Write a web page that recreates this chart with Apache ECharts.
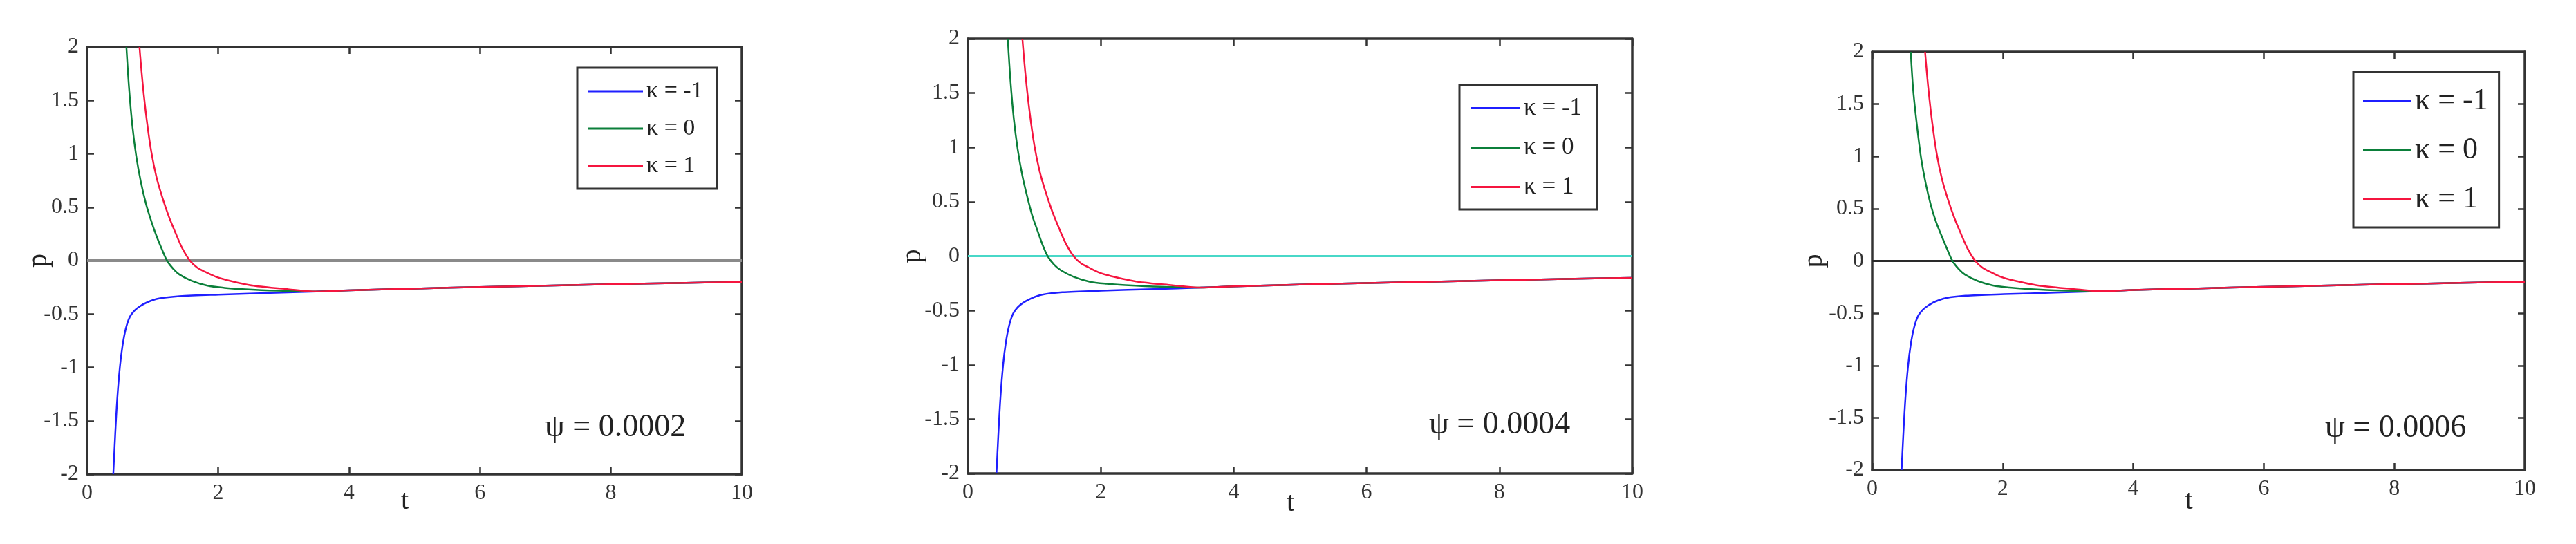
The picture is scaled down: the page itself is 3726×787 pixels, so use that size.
<!DOCTYPE html>
<html>
<head>
<meta charset="utf-8">
<script src="https://cdn.jsdelivr.net/npm/echarts@6/dist/echarts.min.js"></script>
<style>
  html, body { margin: 0; padding: 0; background: #fff; }
  #main { width: 3726px; height: 787px; }
</style>
</head>
<body>
<div id="main"></div>
<script>
// p values (same shape in the three panels)
var blueP  = [-2.0, -1.62, -1.3, -1.0, -0.8, -0.64, -0.53, -0.47, -0.43, -0.39, -0.355, -0.333, -0.318, -0.303, -0.29, -0.278, -0.262, -0.248, -0.235, -0.222, -0.21, -0.2];
var greenP = [2.0, 1.62, 1.27, 0.98, 0.74, 0.53, 0.37, 0.23, 0.11, 0.0, -0.08, -0.13, -0.19, -0.235, -0.255, -0.267, -0.282, -0.29, -0.278, -0.262, -0.248, -0.235, -0.222, -0.21, -0.2];
var redP   = [2.0, 1.65, 1.32, 1.02, 0.78, 0.59, 0.41, 0.26, 0.12, 0.0, -0.065, -0.105, -0.15, -0.18, -0.235, -0.268, -0.29, -0.278, -0.262, -0.248, -0.235, -0.222, -0.21, -0.2];

// t values for each panel
var blueT1  = [0.40, 0.43, 0.46, 0.50, 0.54, 0.59, 0.65, 0.72, 0.80, 0.92, 1.10, 1.41, 2.01, 2.8, 3.5, 4, 5, 6, 7, 8, 9, 10];
var greenT1 = [0.60, 0.64, 0.69, 0.75, 0.82, 0.90, 0.98, 1.06, 1.14, 1.22, 1.32, 1.41, 1.60, 1.84, 2.10, 2.37, 2.9, 3.5, 4, 5, 6, 7, 8, 9, 10];
var redT1   = [0.80, 0.85, 0.91, 0.98, 1.06, 1.15, 1.25, 1.35, 1.45, 1.57, 1.68, 1.80, 1.96, 2.12, 2.54, 3.07, 3.5, 4, 5, 6, 7, 8, 9, 10];

var blueT2  = [0.43, 0.46, 0.49, 0.53, 0.57, 0.62, 0.68, 0.75, 0.83, 0.95, 1.12, 1.42, 2.01, 2.8, 3.5, 4, 5, 6, 7, 8, 9, 10];
var greenT2 = [0.60, 0.64, 0.69, 0.75, 0.82, 0.90, 0.97, 1.05, 1.12, 1.20, 1.30, 1.40, 1.59, 1.83, 2.09, 2.37, 2.9, 3.5, 4, 5, 6, 7, 8, 9, 10];
var redT2   = [0.82, 0.87, 0.93, 1.00, 1.08, 1.17, 1.27, 1.37, 1.47, 1.59, 1.70, 1.82, 1.97, 2.13, 2.55, 3.08, 3.5, 4, 5, 6, 7, 8, 9, 10];

var blueT3  = [0.45, 0.48, 0.51, 0.55, 0.59, 0.64, 0.70, 0.77, 0.85, 0.96, 1.13, 1.43, 2.02, 2.8, 3.5, 4, 5, 6, 7, 8, 9, 10];
var greenT3 = [0.59, 0.63, 0.69, 0.75, 0.82, 0.90, 0.98, 1.07, 1.15, 1.23, 1.33, 1.42, 1.61, 1.85, 2.11, 2.38, 2.9, 3.5, 4, 5, 6, 7, 8, 9, 10];
var redT3   = [0.81, 0.86, 0.92, 0.99, 1.07, 1.16, 1.26, 1.36, 1.46, 1.58, 1.69, 1.81, 1.96, 2.12, 2.54, 3.07, 3.5, 4, 5, 6, 7, 8, 9, 10];

var zeroT = [0, 10];
var zeroP = [0, 0];

var names = ['κ = -1', 'κ = 0', 'κ = 1'];
var psiLabels = ['ψ = 0.0002', 'ψ = 0.0004', 'ψ = 0.0006'];

function pairs(t, p) {
  return t.map(function (x, i) { return [x, p[i]]; });
}

var serif = 'Liberation Serif';
var axisColor = '#333';

var panels = [
  { grid: { left: 126, top: 68, width: 947, height: 618 }, blue: blueT1, green: greenT1, red: redT1,
    zero: { color: '#8a8a8a', width: 4 }, yGap: 50, xGap: 19,
    legend: { left: 835, top: 98, padding: [17, 20, 16, 15], itemGap: 20, itemWidth: 80, fontSize: 34, lineHeight: 30 },
    psi: { left: 788, top: 596 } },
  { grid: { left: 1400, top: 56, width: 961, height: 629 }, blue: blueT2, green: greenT2, red: redT2,
    zero: { color: '#48d8c8', width: 3 }, yGap: 60, xGap: 23,
    legend: { left: 2111, top: 123, padding: [16, 22, 15, 16], itemGap: 22, itemWidth: 72, fontSize: 35, lineHeight: 30 },
    psi: { left: 2067, top: 592 } },
  { grid: { left: 2708, top: 75, width: 944, height: 605 }, blue: blueT3, green: greenT3, red: redT3,
    zero: { color: '#2a2a2a', width: 3 }, yGap: 64, xGap: 25,
    legend: { left: 3404, top: 104, padding: [20, 16, 19, 14], itemGap: 27, itemWidth: 70, fontSize: 44, lineHeight: 40 },
    psi: { left: 3363, top: 597 } }
];

var option = {
  backgroundColor: '#fff',
  animation: false,
  grid: [], xAxis: [], yAxis: [], series: [], legend: [], title: []
};

panels.forEach(function (pn, i) {
  option.grid.push(pn.grid);
  var tick = { show: true, inside: true, length: 10, lineStyle: { color: axisColor, width: 2.5 } };
  var line = { show: true, onZero: false, lineStyle: { color: axisColor, width: 3.5 } };
  var lbl = { show: true, fontFamily: serif, fontSize: 32, color: '#333', margin: 12 };
  option.xAxis.push({
    gridIndex: i, type: 'value', min: 0, max: 10, interval: 2, position: 'bottom',
    axisLine: line, axisTick: tick, axisLabel: lbl, splitLine: { show: false },
    name: 't', nameLocation: 'middle', nameGap: pn.xGap, nameMoveOverlap: false,
    nameTextStyle: { fontFamily: serif, fontSize: 40, color: '#222', padding: [0, 28, 0, 0] }
  });
  option.xAxis.push({
    gridIndex: i, type: 'value', min: 0, max: 10, interval: 2, position: 'top',
    axisLine: line, axisTick: tick, axisLabel: { show: false }, splitLine: { show: false }
  });
  option.yAxis.push({
    gridIndex: i, type: 'value', min: -2, max: 2, interval: 0.5, position: 'left',
    axisLine: line, axisTick: tick, axisLabel: lbl, splitLine: { show: false },
    name: 'p', nameLocation: 'middle', nameGap: pn.yGap, nameRotate: 90, nameMoveOverlap: false,
    nameTextStyle: { fontFamily: serif, fontSize: 40, color: '#222' }
  });
  option.yAxis.push({
    gridIndex: i, type: 'value', min: -2, max: 2, interval: 0.5, position: 'right',
    axisLine: line, axisTick: tick, axisLabel: { show: false }, splitLine: { show: false }
  });

  var xi = i * 2, yi = i * 2;
  option.series.push({
    name: 'zero', type: 'line', xAxisIndex: xi, yAxisIndex: yi, data: pairs(zeroT, zeroP),
    symbol: 'none', lineStyle: { color: pn.zero.color, width: pn.zero.width }, z: 1
  });
  var curves = [[pn.blue, blueP, '#1f1fff'], [pn.green, greenP, '#0b7f3a'], [pn.red, redP, '#f5153f']];
  curves.forEach(function (c, k) {
    option.series.push({
      name: names[k], type: 'line', xAxisIndex: xi, yAxisIndex: yi, data: pairs(c[0], c[1]),
      symbol: 'none', smooth: 0.3, clip: true,
      itemStyle: { color: c[2] }, lineStyle: { color: c[2], width: 2.5 }, z: 2 + k
    });
  });

  var lg = pn.legend;
  option.legend.push({
    data: names, orient: 'vertical', left: lg.left, top: lg.top, padding: lg.padding,
    itemGap: lg.itemGap, itemWidth: lg.itemWidth, itemHeight: 3, icon: 'rect',
    backgroundColor: '#fff', borderColor: axisColor, borderWidth: 3, selectedMode: false,
    textStyle: { fontFamily: serif, fontSize: lg.fontSize, lineHeight: lg.lineHeight, color: '#222' }
  });

  option.title.push({
    text: psiLabels[i], left: pn.psi.left, top: pn.psi.top, padding: 0,
    textStyle: { fontFamily: serif, fontSize: 46, fontWeight: 'normal', color: '#222' }
  });
});

var myChart = echarts.init(document.getElementById('main'));
myChart.setOption(option);
</script>
</body>
</html>
